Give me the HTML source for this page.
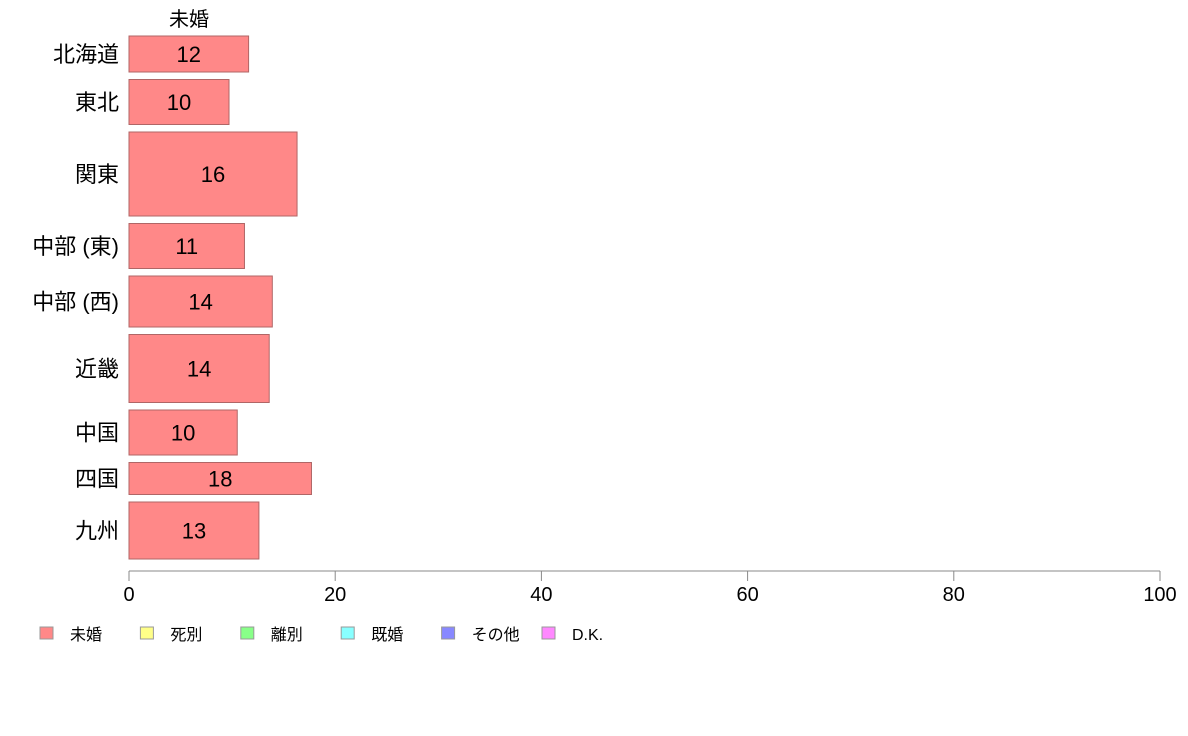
<!DOCTYPE html>
<html><head><meta charset="utf-8"><style>
body{margin:0;background:#fff;}
svg{display:block;font-family:"Liberation Sans","Noto Sans CJK JP",sans-serif;}
</style></head><body>
<svg id="chart" width="1188" height="736" viewBox="0 0 1188 736"></svg>
<script>
const categories=["北海道","東北","関東","中部 (東)","中部 (西)","近畿","中国","四国","九州"];
const values=[11.6,9.7,16.3,11.2,13.9,13.6,10.5,17.7,12.6];
const labels=["12","10","16","11","14","14","10","18","13"];
const weights=[36,45,84,45,51,68,45,32,57];
const ticks=[0,20,40,60,80,100];
const legendNames=["未婚","死別","離別","既婚","その他","D.K."];
const legendColors=["#ff8888","#ffff88","#88ff88","#88ffff","#8888ff","#ff88ff"];

const NS="http://www.w3.org/2000/svg";
const svg=document.getElementById("chart");
const x0=129,x1=1160,yTop=36,yBot=559,gap=7.5;
const xs=v=>x0+(v/100)*(x1-x0);
function mk(t,a,txt){const e=document.createElementNS(NS,t);for(const k in a)e.setAttribute(k,a[k]);if(txt!=null)e.textContent=txt;svg.appendChild(e);return e;}
const tot=weights.reduce((a,b)=>a+b,0);
const scale=(yBot-yTop-gap*(weights.length-1))/tot;
let t=mk("text",{x:189,y:26,"font-size":20,"text-anchor":"middle",fill:"#000"},"未婚");


let y=yTop;
categories.forEach((c,i)=>{
  const h=weights[i]*scale;
  const r=mk("rect",{x:x0,y:y,width:xs(values[i])-x0,height:h,fill:"#ff8888",stroke:"#b06666","stroke-width":1});
  
  
  const l=mk("text",{x:(x0+xs(values[i]))/2,y:y+h/2+8,"font-size":22,"text-anchor":"middle",fill:"#000"},labels[i]);
  
  
  const cl=mk("text",{x:119,y:y+h/2+8,"font-size":22,"text-anchor":"end",fill:"#000"},c);
  
  
  y+=h+gap;
});
const ax=mk("line",{x1:x0,x2:x1,y1:571,y2:571,stroke:"#888","stroke-width":1});


ticks.forEach(v=>{
  const tk=mk("line",{x1:xs(v),x2:xs(v),y1:571,y2:581,stroke:"#888","stroke-width":1});
  
  
  const tl=mk("text",{x:xs(v),y:601,"font-size":20,"text-anchor":"middle",fill:"#000"},String(v));
  
  
});
legendNames.forEach((n,i)=>{
  const lx=40+i*100.4;
  const sq=mk("rect",{x:lx,y:627,width:13,height:12,fill:legendColors[i],stroke:"#999","stroke-width":1});
  
  
  const lt=mk("text",{x:lx+30,y:640,"font-size":16,fill:"#000"},n);
  
  
});
</script>
</body></html>
